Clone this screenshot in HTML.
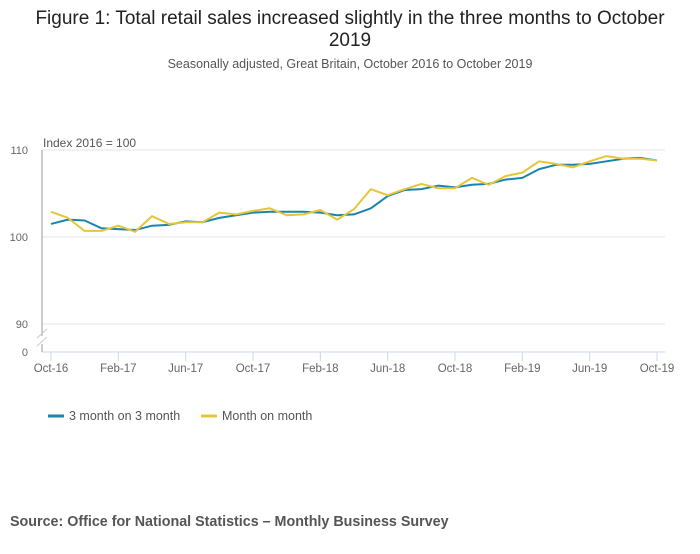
<!DOCTYPE html>
<html><head><meta charset="utf-8"><style>
body{margin:0;background:#fff;font-family:"Liberation Sans",sans-serif;}
</style></head><body>
<svg width="700" height="549" xmlns="http://www.w3.org/2000/svg" id="svg">
<text x="350" y="24" text-anchor="middle" font-size="19" fill="#222">Figure 1: Total retail sales increased slightly in the three months to October</text>
<text x="350" y="46" text-anchor="middle" font-size="19" fill="#222">2019</text>
<text x="350" y="68" text-anchor="middle" font-size="12.5" fill="#555">Seasonally adjusted, Great Britain, October 2016 to October 2019</text>
<text x="43" y="147" font-size="12" fill="#555">Index 2016 = 100</text>
<g id="grid"></g>
<line x1="42" y1="150" x2="42" y2="336" stroke="#999"/>
<line x1="42" y1="344" x2="42" y2="352" stroke="#999"/>
<line x1="37" y1="338" x2="47" y2="329" stroke="#ccc"/>
<line x1="37" y1="346" x2="47" y2="337" stroke="#ccc"/>
<line x1="42" y1="352" x2="665" y2="352" stroke="#ccd6eb"/>
<text x="28" y="356" text-anchor="end" font-size="11" fill="#666">0</text>
<g id="xaxis"></g>
<g id="series"></g>
<line x1="48" y1="416" x2="64" y2="416" stroke="#1a84ae" stroke-width="3"/>
<text x="69" y="420" font-size="12.5" fill="#555">3 month on 3 month</text>
<line x1="201" y1="416" x2="217" y2="416" stroke="#e5c53a" stroke-width="3"/>
<text x="222" y="420" font-size="12.5" fill="#555">Month on month</text>
<text x="10" y="526" font-size="14.3" font-weight="bold" fill="#555">Source: Office for National Statistics – Monthly Business Survey</text>
</svg>
<script>
const tickLabels=["Oct-16","Feb-17","Jun-17","Oct-17","Feb-18","Jun-18","Oct-18","Feb-19","Jun-19","Oct-19"];
const yTicks=[90,100,110];
const threeMonth=[101.5,102.0,101.9,101.0,100.9,100.8,101.3,101.4,101.8,101.7,102.2,102.5,102.8,102.9,102.9,102.9,102.8,102.5,102.6,103.3,104.7,105.4,105.5,105.9,105.7,106.0,106.1,106.6,106.8,107.8,108.3,108.3,108.4,108.7,109.0,109.1,108.8];
const monthOnMonth=[102.9,102.2,100.7,100.7,101.3,100.6,102.4,101.5,101.7,101.7,102.8,102.6,103.0,103.3,102.5,102.6,103.1,102.0,103.2,105.5,104.8,105.5,106.1,105.6,105.6,106.8,106.0,107.0,107.4,108.7,108.4,108.0,108.7,109.3,109.0,109.0,108.8];
const NS="http://www.w3.org/2000/svg";
const xs=i=>51+i*(606/36);
const ys=v=>237-(v-100)*8.7;
const grid=document.getElementById('grid'),xa=document.getElementById('xaxis'),se=document.getElementById('series');
yTicks.forEach(t=>{
 const l=document.createElementNS(NS,'line');
 l.setAttribute('x1',42);l.setAttribute('x2',665);l.setAttribute('y1',ys(t));l.setAttribute('y2',ys(t));
 l.setAttribute('stroke','#e6e6e6');
 
 
 grid.appendChild(l);
 const tx=document.createElementNS(NS,'text');
 tx.setAttribute('x',28);tx.setAttribute('y',ys(t)+4);tx.setAttribute('text-anchor','end');tx.setAttribute('font-size','11');tx.setAttribute('fill','#666');
 tx.textContent=t;
 
 
 grid.appendChild(tx);
});
tickLabels.forEach((s,k)=>{
 const x=xs(k*4);
 const l=document.createElementNS(NS,'line');
 l.setAttribute('x1',x);l.setAttribute('x2',x);l.setAttribute('y1',352);l.setAttribute('y2',361);l.setAttribute('stroke','#ccd6eb');
 
 
 xa.appendChild(l);
 const tx=document.createElementNS(NS,'text');
 tx.setAttribute('x',x);tx.setAttribute('y',372);tx.setAttribute('text-anchor','middle');tx.setAttribute('font-size','11.5');tx.setAttribute('fill','#666');
 tx.textContent=s;
 
 
 xa.appendChild(tx);
});
function line(arr,color,name){
 const p=document.createElementNS(NS,'polyline');
 p.setAttribute('points',arr.map((v,i)=>xs(i)+','+ys(v)).join(' '));
 p.setAttribute('fill','none');p.setAttribute('stroke',color);p.setAttribute('stroke-width','2');p.setAttribute('stroke-linejoin','round');
 
 
 se.appendChild(p);
}
line(threeMonth,'#1a84ae','series-3-month-on-3-month');
line(monthOnMonth,'#e5c53a','series-month-on-month');
</script>
</body></html>
